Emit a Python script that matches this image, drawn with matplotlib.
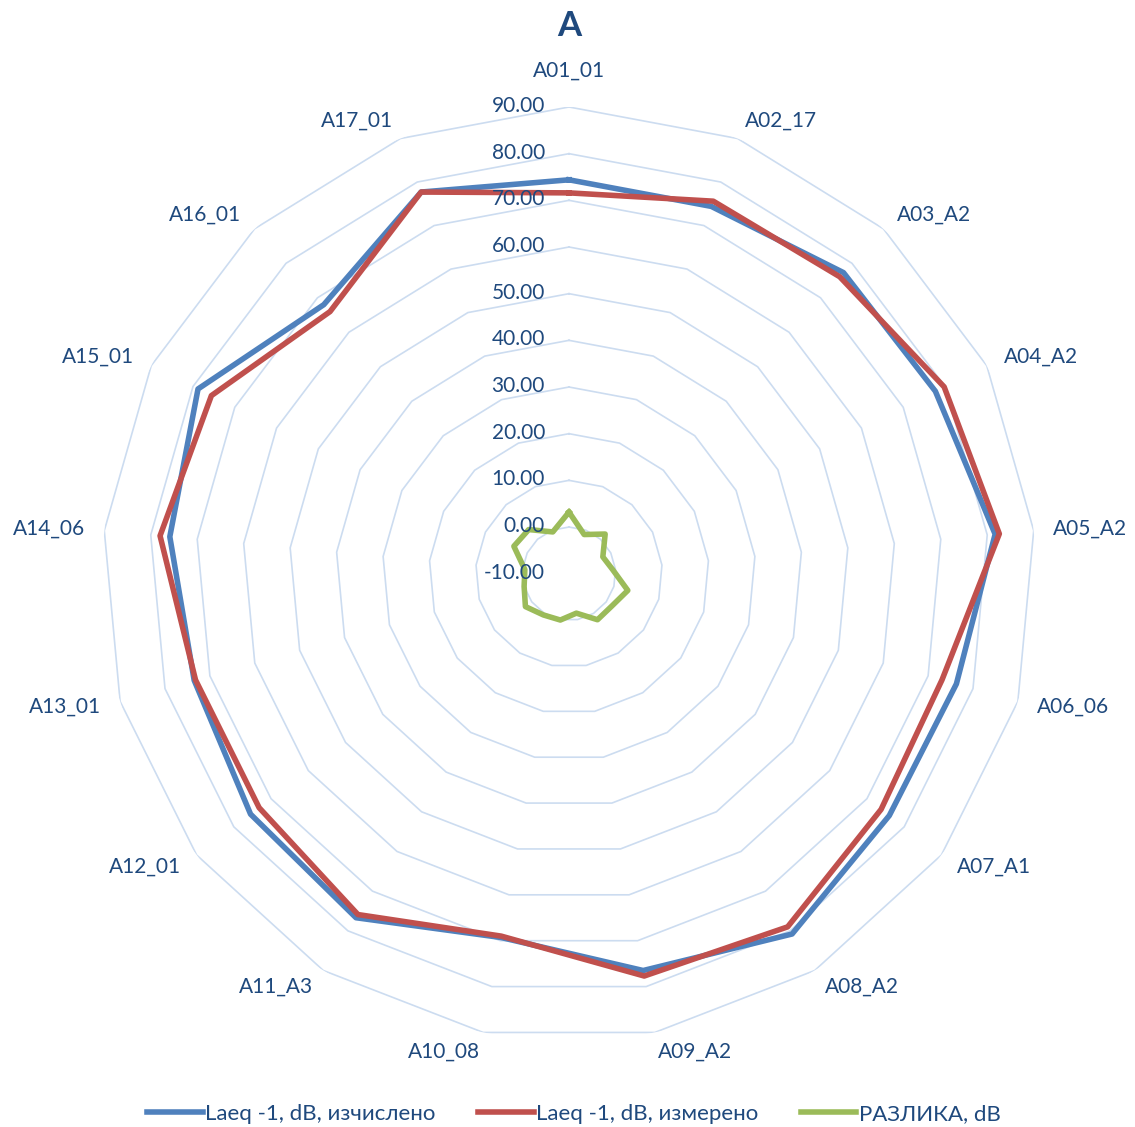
import numpy as np
import matplotlib
matplotlib.use("Agg")
import matplotlib.pyplot as plt

plt.rcParams['font.family'] = ['Lato', 'DejaVu Sans']

categories = ["A01_01", "A02_17", "A03_A2", "A04_A2", "A05_A2", "A06_06",
              "A07_A1", "A08_A2", "A09_A2", "A10_08", "A11_A3", "A12_01",
              "A13_01", "A14_06", "A15_01", "A16_01", "A17_01"]
calc = [74.4, 74.4, 77.3, 77.7, 81.7, 76.3, 76.0, 80.8, 76.5, 69.3,
        76.7, 75.5, 73.5, 75.9, 78.8, 68.0, 77.7]
meas = [71.6, 75.6, 76.1, 79.8, 82.6, 73.1, 73.8, 79.0, 77.7, 69.0,
        75.9, 73.2, 73.2, 78.0, 75.6, 66.0, 77.7]
diff = [3.2, -1.0, 1.5, -1.9, -0.6, 3.1, 1.5, 1.6, -1.4, 0.1,
        0.4, 1.7, 0.0, -0.5, 3.2, 2.8, -0.4]
ticks = [-10, 0, 10, 20, 30, 40, 50, 60, 70, 80, 90]
series_names = ["Laeq -1, dB, изчислено", "Laeq -1, dB, измерено", "РАЗЛИКА, dB"]

txt = "#1F497D"
grid_c = "#CCDCF0"
colors = ["#4F81BD", "#C0504D", "#9BBB59"]

W, H = 1135, 1127
fig = plt.figure(figsize=(W / 100, H / 100), dpi=100)
R = 466.7
cx, cy = 569, 573.7
ax = fig.add_axes([(cx - R) / W, (H - cy - R) / H, 2 * R / W, 2 * R / H],
                  projection='polar')
ax.set_theta_zero_location('N')
ax.set_theta_direction(-1)
ax.set_ylim(ticks[0], ticks[-1])
ax.set_axis_off()

n = len(categories)
theta = np.arange(n) * 2 * np.pi / n
theta_c = np.append(theta, theta[0])

# polygon grid (no spokes, like excel)
for v in ticks[1:]:
    ax.plot(theta_c, [v] * (n + 1), color=grid_c, lw=1.2, zorder=1)

lines = []
for vals, col, name in zip([calc, meas, diff], colors, series_names):
    ln, = ax.plot(theta_c, list(vals) + [vals[0]], color=col, lw=4.0,
                  solid_joinstyle='round', zorder=3, label=name)
    lines.append(ln)

# value labels along top spoke
for v in ticks:
    ax.annotate(f"{v:.2f}", xy=(0, v), xytext=(-24, 1), textcoords='offset pixels',
                ha='right', va='center', fontsize=15, color=txt, zorder=4)

# category labels
pad = 19.5
for i, (t, lab) in enumerate(zip(theta, categories)):
    s, c = np.sin(t), np.cos(t)
    if i == 0:
        off, ha = (0, 36), 'center'
    else:
        off = (pad * s, pad * c)
        ha = 'left' if s > 0 else 'right'
    ax.annotate(lab, xy=(t, ticks[-1]), xytext=off,
                textcoords='offset pixels', ha=ha, va='center',
                fontsize=15, color=txt, annotation_clip=False)

fig.text(569 / W, 1 - 26 / H, "A", ha='center', va='center', fontsize=25,
         fontweight='bold', color=txt)

fig.legend(handles=lines, loc='center', bbox_to_anchor=(574 / W, 13 / H), ncol=3,
           frameon=False, fontsize=16, handlelength=2.5, handletextpad=0.12,
           columnspacing=1.9, labelcolor=txt)

fig.savefig("out.png", dpi=100)
